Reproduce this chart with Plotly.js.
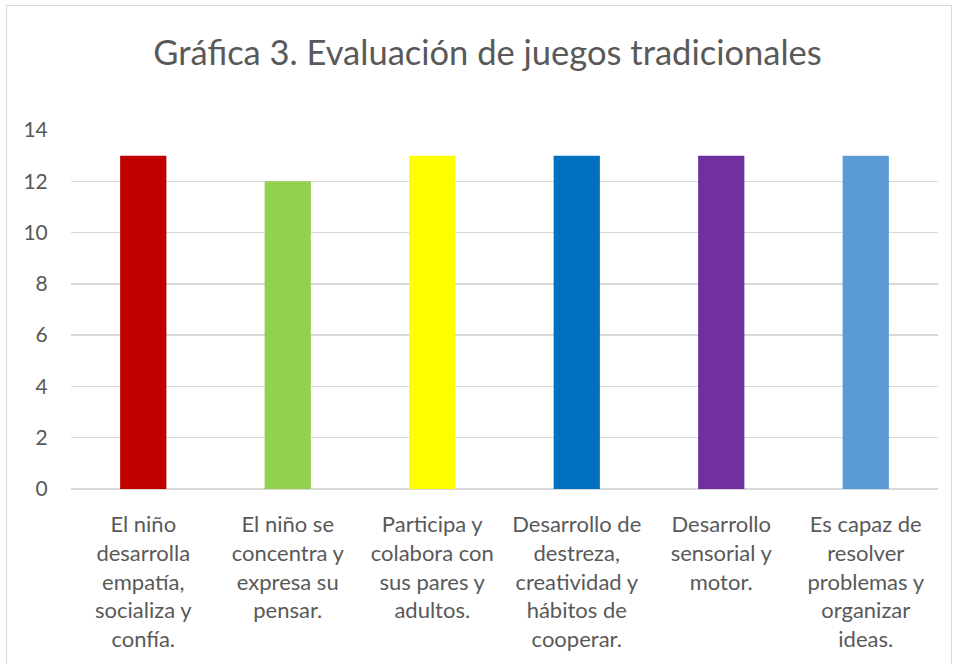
<!DOCTYPE html>
<html><head><meta charset="utf-8">
<script src="https://cdn.plot.ly/plotly-3.0.1.min.js"></script>
<style>body{margin:0;background:#fff}#frame{position:absolute;left:6px;top:5px;width:944px;height:670px;border:1px solid #d9d9d9;pointer-events:none}</style>
</head><body>
<div id="chart" style="width:954px;height:664px"></div>
<div id="frame"></div>
<script>
const categories = [
  "El niño<br>desarrolla<br>empatía,<br>socializa y<br>confía.",
  "El niño se<br>concentra y<br>expresa su<br>pensar.",
  "Participa y<br>colabora con<br>sus pares y<br>adultos.",
  "Desarrollo de<br>destreza,<br>creatividad y<br>hábitos de<br>cooperar.",
  "Desarrollo<br>sensorial y<br>motor.",
  "Es capaz de<br>resolver<br>problemas y<br>organizar<br>ideas."
];
const values = [13, 12, 13, 13, 13, 13];
const barColors = ["#C00000", "#92D050", "#FFFF00", "#0070C0", "#7030A0", "#5B9BD5"];
const yTicks = [0, 2, 4, 6, 8, 10, 12, 14];

Plotly.newPlot('chart', [{
  type: 'bar', x: categories, y: values,
  marker: {color: barColors}, hoverinfo: 'none'
}], {
  width: 954, height: 664,
  margin: {l: 71, r: 16, t: 130, b: 175},
  bargap: 0.68,
  font: {family: 'Lato, "Open Sans", sans-serif', color: '#595959', size: 22},
  title: {text: 'Gráfica 3. Evaluación de juegos tradicionales', x: 0.511, xref: 'container', xanchor: 'center',
          y: 0.921, yanchor: 'middle',
          font: {size: 34.5, color: '#595959', family: 'Lato, "Open Sans", sans-serif'}},
  xaxis: {tickangle: 0, showline: false, ticks: 'outside', ticklen: 16, tickcolor: 'rgba(0,0,0,0)', automargin: false,
          tickfont: {size: 22, color: '#595959'}},
  yaxis: {range: [0, 14], tickvals: yTicks, showgrid: true, gridcolor: '#d9d9d9', gridwidth: 1.3,
          zeroline: true, zerolinecolor: '#d9d9d9', zerolinewidth: 1.3, automargin: false,
          ticks: 'outside', ticklen: 18, tickcolor: 'rgba(0,0,0,0)',
          tickfont: {size: 21, color: '#595959'}},
  showlegend: false,
  plot_bgcolor: '#fff', paper_bgcolor: '#fff'
}, {staticPlot: true});
</script>
</body></html>
